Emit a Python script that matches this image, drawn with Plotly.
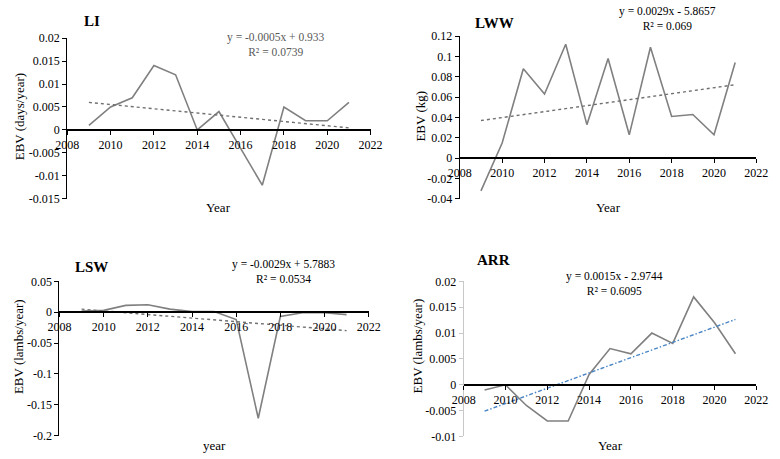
import numpy as np
import plotly.graph_objects as go

years = [2009, 2010, 2011, 2012, 2013, 2014, 2015, 2016, 2017, 2018, 2019, 2020, 2021]
li = [0.001, 0.005, 0.007, 0.014, 0.012, 0.0, 0.004, -0.004, -0.012, 0.005, 0.002, 0.002, 0.006]
lww = [-0.032, 0.015, 0.088, 0.063, 0.112, 0.033, 0.098, 0.023, 0.109, 0.041, 0.043, 0.023, 0.094]
lsw = [0.002, 0.003, 0.011, 0.012, 0.005, 0.001, 0.001, -0.012, -0.172, -0.007, -0.001, -0.001, -0.004]
arr = [-0.001, 0.0, -0.004, -0.007, -0.007, 0.002, 0.007, 0.006, 0.010, 0.008, 0.017, 0.012, 0.006]

titles = ["LI", "LWW", "LSW", "ARR"]
ylabels = ["EBV (days/year)", "EBV (kg)", "EBV (lambs/year)", "EBV (lambs/year)"]
xlabels = ["Year", "Year", "year", "Year"]
equations = ["y = -0.0005x + 0.933<br>R² = 0.0739",
             "y = 0.0029x - 5.8657<br>R² = 0.069",
             "y = -0.0029x + 5.7883<br>R² = 0.0534",
             "y = 0.0015x - 2.9744<br>R² = 0.6095"]
x_ticks = [2008, 2010, 2012, 2014, 2016, 2018, 2020, 2022]
y_ticks = [
    [0.02, 0.015, 0.01, 0.005, 0, -0.005, -0.01, -0.015],
    [0.12, 0.1, 0.08, 0.06, 0.04, 0.02, 0, -0.02, -0.04],
    [0.05, 0, -0.05, -0.1, -0.15, -0.2],
    [0.02, 0.015, 0.01, 0.005, 0, -0.005, -0.01],
]
y_tick_text = [
    ["0.02", "0.015", "0.01", "0.005", "0", "-0.005", "-0.01", "-0.015"],
    ["0.12", "0.1", "0.08", "0.06", "0.04", "0.02", "0", "-0.02", "-0.04"],
    ["0.05", "0", "-0.05", "-0.1", "-0.15", "-0.2"],
    ["0.02", "0.015", "0.01", "0.005", "0", "-0.005", "-0.01"],
]
series = [li, lww, lsw, arr]

W, H = 780, 459
# pixel boxes: (left, right, top, bottom)
boxes = [(57, 370, 32, 198), (462, 768, 30, 198), (49, 368, 283, 442), (466, 768, 283, 443)]
yranges = [(-0.015, 0.02), (-0.04, 0.12), (-0.2, 0.05), (-0.01, 0.02)]
title_pos = [(83, 14), (498, 16), (82, 268), (497, 261)]
eq_pos = [(272, 39), (676, 12), (280, 273), (622, 285)]
ylab_x = [8, 422, 7, 418]
ylab_y = [113, 113, 350, 350]
xlab_y = [207, 207, 452, 452]
trend_colors = ["#707070", "#707070", "#707070", "#4a86c5"]
yaxis_colors = ["#000000", "#000000", "#000000", "#c8c8c8"]

font_family = "Liberation Serif"
fig = go.Figure()
annotations = []
layout_axes = {}


def ann(text, px, py, size, angle=0, color="#000"):
    return dict(text=text, x=px / W, y=1 - py / H, xref="paper", yref="paper",
                xanchor="center", yanchor="middle", showarrow=False, textangle=angle,
                align="center", font=dict(family=font_family, size=size, color=color))


for i in range(4):
    l, r, t, b = boxes[i]
    xd = [l / W, r / W]
    yd = [1 - b / H, 1 - t / H]
    ymin, ymax = yranges[i]
    xa = "x" if i == 0 else f"x{i+1}"
    ya = "y" if i == 0 else f"y{i+1}"
    xk = "xaxis" if i == 0 else f"xaxis{i+1}"
    yk = "yaxis" if i == 0 else f"yaxis{i+1}"
    zero_frac = yd[0] + (0 - ymin) / (ymax - ymin) * (yd[1] - yd[0])

    vals = series[i]
    fig.add_trace(go.Scatter(x=years, y=vals, mode="lines", xaxis=xa, yaxis=ya,
                             line=dict(color="#808080", width=1.6), showlegend=False,
                             hoverinfo="skip"))
    slope, intercept = np.polyfit(years, vals, 1)
    trend = [slope * yr + intercept for yr in years]
    dash = "dot" if i < 3 else "4px,2px,1.5px,2px"
    fig.add_trace(go.Scatter(x=years, y=trend, mode="lines", xaxis=xa, yaxis=ya,
                             line=dict(color=trend_colors[i], width=1.4, dash=dash),
                             showlegend=False, hoverinfo="skip"))

    layout_axes[xk] = dict(domain=xd, range=[2008, 2022], anchor="free", position=zero_frac,
                           tickvals=x_ticks, ticktext=[str(v) for v in x_ticks],
                           showline=True, linecolor="#000000", linewidth=1.5,
                           ticks="outside", ticklen=4, tickcolor="#000000", showgrid=False,
                           zeroline=False, tickfont=dict(family=font_family, size=12, color="#000"),
                           fixedrange=True)
    layout_axes[yk] = dict(domain=yd, range=[ymin, ymax], anchor=xa,
                           tickvals=y_ticks[i], ticktext=y_tick_text[i],
                           showline=True, linecolor=yaxis_colors[i], linewidth=1.2,
                           ticks="outside", ticklen=4, tickcolor=yaxis_colors[i], showgrid=False,
                           zeroline=False, tickfont=dict(family=font_family, size=12, color="#000"),
                           fixedrange=True)

    annotations.append(ann(f"<b>{titles[i]}</b>", title_pos[i][0], title_pos[i][1], 15))
    annotations.append(ann(equations[i], eq_pos[i][0], eq_pos[i][1], 11.5,
                           color="#595959" if i == 0 else "#000"))
    annotations.append(ann(ylabels[i], ylab_x[i], ylab_y[i], 13, angle=-90))
    annotations.append(ann(xlabels[i], (l + r) / 2, xlab_y[i], 13))

fig.update_layout(width=W, height=H, margin=dict(l=0, r=0, t=0, b=0),
                  paper_bgcolor="white", plot_bgcolor="white",
                  annotations=annotations, **layout_axes)
fig.write_html("out.html")
